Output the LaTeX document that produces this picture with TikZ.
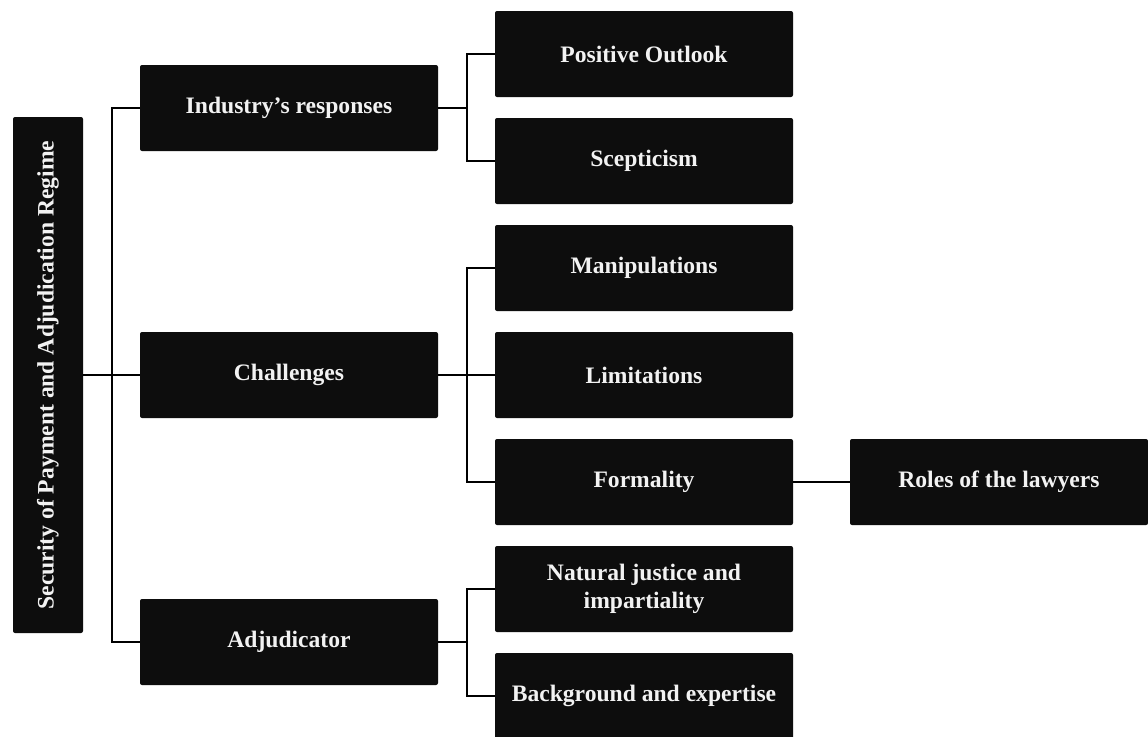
\documentclass[tikz,border=0pt]{standalone}
\usepackage{fontspec}
\setmainfont{Liberation Serif}
\definecolor{boxfill}{HTML}{0D0D0D}
\definecolor{boxtext}{HTML}{F2F2F2}
\tikzset{
  box/.style={fill=boxfill, rounded corners=1.5pt, text=boxtext,
    font=\bfseries\fontsize{17.7}{21}\selectfont, align=center,
    inner sep=0pt, minimum height=64.5pt, minimum width=223.5pt},
  rootbox/.style={box, rotate=90, minimum width=387pt, minimum height=52.5pt},
  link/.style={draw=black, line width=2pt}
}
\begin{document}
\begin{tikzpicture}[x=0.75pt,y=-0.75pt]
\useasboundingbox (0,0) rectangle (1148,736);
\fill[white] (0,0) rectangle (1148,736);
\clip (0,0) rectangle (1148,736);
\node[rootbox] (root) at (48,375) {Security of Payment and Adjudication Regime};
\node[box] (ind) at (289,108) {Industry’s responses};
\node[box] (cha) at (289,375) {Challenges};
\node[box] (adj) at (289,642) {Adjudicator};
\node[box] (pos) at (644,54) {Positive Outlook};
\node[box] (sce) at (644,161) {Scepticism};
\node[box] (man) at (644,268) {Manipulations};
\node[box] (lim) at (644,375) {Limitations};
\node[box] (for) at (644,482) {Formality};
\node[box] (nat) at (644,589) {Natural justice and\\impartiality};
\node[box] (bg) at (644,696) {Background and expertise};
\node[box] (rol) at (999,482) {Roles of the lawyers};
\coordinate (j0) at (112,375);
\coordinate (j1) at (467,108);
\coordinate (j2) at (467,375);
\coordinate (j3) at (467,642);
\draw[link] (root.south) -- (j0);
\draw[link] (ind.west) -| (j0) |- (adj.west);
\draw[link] (j0) -- (cha.west);
\draw[link] (ind.east) -- (j1);
\draw[link] (pos.west) -| (j1) |- (sce.west);
\draw[link] (cha.east) -- (j2);
\draw[link] (man.west) -| (j2) |- (for.west);
\draw[link] (j2) -- (lim.west);
\draw[link] (adj.east) -- (j3);
\draw[link] (nat.west) -| (j3) |- (bg.west);
\draw[link] (for.east) -- (rol.west);
\end{tikzpicture}
\end{document}
